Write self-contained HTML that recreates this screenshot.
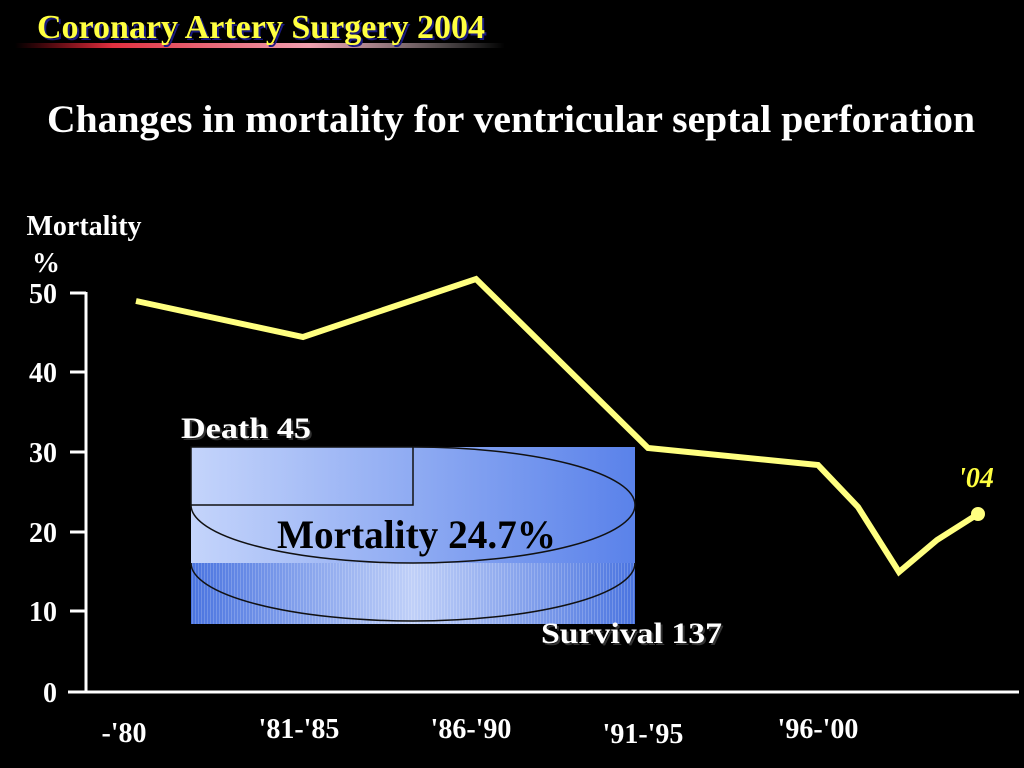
<!DOCTYPE html>
<html><head><style>
html,body{margin:0;padding:0;background:#000;width:1024px;height:768px;overflow:hidden}
svg{display:block}
text{font-family:"Liberation Serif",serif;font-weight:bold}
</style></head><body>
<svg width="1024" height="768" viewBox="0 0 1024 768">
<defs>
<linearGradient id="bar" x1="0" y1="0" x2="1" y2="0">
<stop offset="0" stop-color="#e01020" stop-opacity="0"/>
<stop offset="0.2" stop-color="#e03040"/>
<stop offset="0.6" stop-color="#f0a0b0"/>
<stop offset="1" stop-color="#ffffff" stop-opacity="0"/>
</linearGradient>
<linearGradient id="top" gradientUnits="userSpaceOnUse" x1="191" y1="0" x2="635" y2="0">
<stop offset="0" stop-color="#c4d4fb"/>
<stop offset="1" stop-color="#5a82ea"/>
</linearGradient>
<linearGradient id="bot" x1="0" y1="0" x2="1" y2="0">
<stop offset="0" stop-color="#4a74e0"/>
<stop offset="0.5" stop-color="#c0d0f8"/>
<stop offset="1" stop-color="#4a74e0"/>
</linearGradient>
<pattern id="stripes" width="3" height="10" patternUnits="userSpaceOnUse">
<rect width="1" height="10" fill="#ffffff" opacity="0.18"/>
</pattern>
</defs>
<rect x="15" y="43" width="490" height="5" fill="url(#bar)"/>
<text x="39" y="40" font-size="34" fill="#1a1a80" textLength="448" lengthAdjust="spacingAndGlyphs">Coronary Artery Surgery 2004</text>
<text x="37" y="38" font-size="34" fill="#ffff40" textLength="448" lengthAdjust="spacingAndGlyphs">Coronary Artery Surgery 2004</text>
<text x="47" y="132" font-size="39" fill="#fff" textLength="928" lengthAdjust="spacingAndGlyphs">Changes in mortality for ventricular septal perforation</text>
<text x="84" y="235" font-size="28" fill="#fff" text-anchor="middle">Mortality</text>
<text x="46" y="272" font-size="28" fill="#fff" text-anchor="middle">%</text>
<g fill="#fff" font-size="28" text-anchor="end">
<text x="57" y="303">50</text><text x="57" y="382">40</text><text x="57" y="462">30</text>
<text x="57" y="542">20</text><text x="57" y="621">10</text><text x="57" y="702">0</text>
</g>
<g stroke="#fff" stroke-width="3">
<line x1="86" y1="292" x2="86" y2="693"/>
<line x1="68" y1="692" x2="1019" y2="692"/>
<line x1="70" y1="293" x2="86" y2="293"/><line x1="70" y1="372" x2="86" y2="372"/>
<line x1="70" y1="452" x2="86" y2="452"/><line x1="70" y1="532" x2="86" y2="532"/>
<line x1="70" y1="611" x2="86" y2="611"/>
</g>
<g fill="#fff" font-size="28" text-anchor="middle">
<text x="124" y="742">-'80</text><text x="299" y="738">'81-'85</text>
<text x="471" y="738">'86-'90</text><text x="643" y="743">'91-'95</text>
<text x="818" y="738">'96-'00</text>
</g>
<polyline points="136,301 303,337 476,279 648,448 818,465 858,507 899,572 937,540 978,514" fill="none" stroke="#ffff80" stroke-width="6"/>
<circle cx="978" cy="514" r="7" fill="#ffff80"/>
<text x="976" y="487" font-size="28" fill="#ffff40" font-style="italic" text-anchor="middle">'04</text>
<rect x="191" y="447" width="444" height="116" fill="url(#top)"/>
<rect x="191" y="563" width="444" height="61" fill="url(#bot)"/>
<rect x="191" y="563" width="444" height="61" fill="url(#stripes)"/>
<rect x="191" y="447" width="222" height="58" fill="url(#top)" stroke="#111" stroke-width="1.5"/>
<path d="M413,447 A222,58 0 0 1 413,563 A222,58 0 0 1 191,505" fill="none" stroke="#111" stroke-width="1.5"/>
<path d="M191,563 A222,58 0 0 0 635,563" fill="none" stroke="#111" stroke-width="1.5"/>
<text x="277" y="548" font-size="40" fill="#000" textLength="279" lengthAdjust="spacingAndGlyphs">Mortality 24.7%</text>
<text x="183" y="440" font-size="30" fill="#333" textLength="130" lengthAdjust="spacingAndGlyphs">Death 45</text>
<text x="181" y="438" font-size="30" fill="#fff" textLength="130" lengthAdjust="spacingAndGlyphs">Death 45</text>
<text x="543" y="645" font-size="30" fill="#333" textLength="181" lengthAdjust="spacingAndGlyphs">Survival 137</text>
<text x="541" y="643" font-size="30" fill="#fff" textLength="181" lengthAdjust="spacingAndGlyphs">Survival 137</text>
</svg>
</body></html>
